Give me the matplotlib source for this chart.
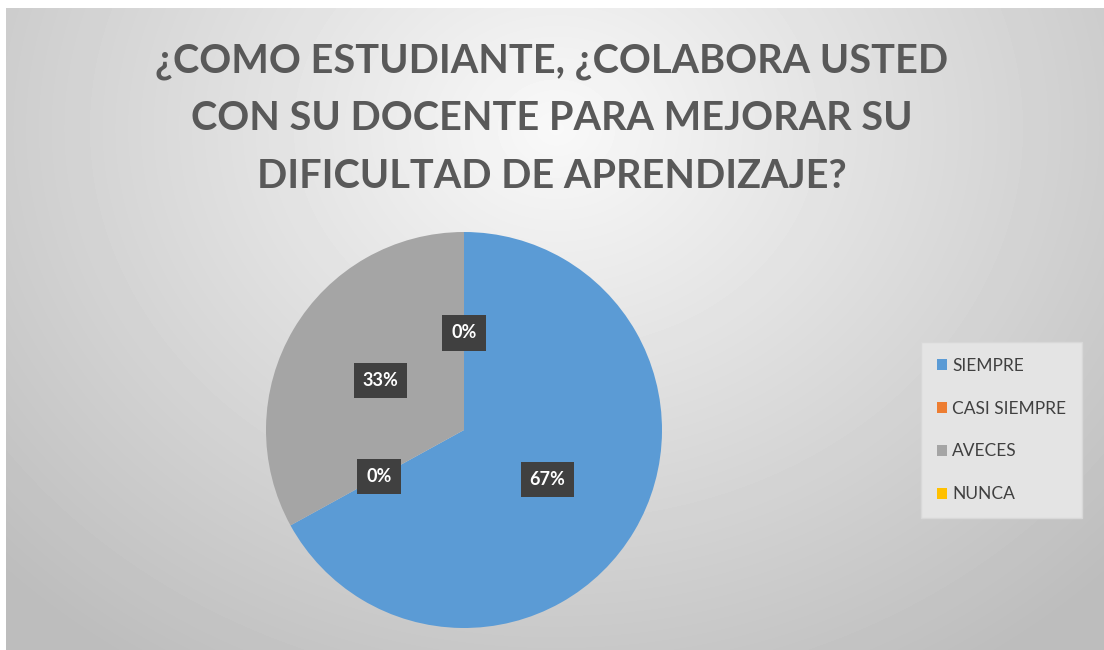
import matplotlib.pyplot as plt
import numpy as np

categories = ["SIEMPRE", "CASI SIEMPRE", "AVECES", "NUNCA"]
values = [67, 0, 33, 0]
colors = ["#5B9BD5", "#ED7D31", "#A5A5A5", "#FFC000"]
title_lines = ["¿COMO ESTUDIANTE, ¿COLABORA USTED",
               "CON SU DOCENTE PARA MEJORAR SU",
               "DIFICULTAD DE APRENDIZAJE?"]

plt.rcParams["font.family"] = ["Lato", "DejaVu Sans"]

W, H = 1104, 650
fig = plt.figure(figsize=(W / 100, H / 100), dpi=100)
fig.patch.set_facecolor("white")

# radial gradient background
bg = fig.add_axes([6 / W, 0, 1 - 6 / W, 1 - 8 / H])
yy, xx = np.mgrid[0:642, 0:1098]
r = np.sqrt(((xx - 550) / 620.0) ** 2 + ((yy - 120) / 520.0) ** 2)
shade = np.clip(0.975 - 0.19 * r, 0.74, 1.0)
bg.imshow(shade, cmap="gray", vmin=0, vmax=1, aspect="auto", interpolation="bilinear")
bg.set_axis_off()

# title, one line at a time (centres at 62, 119, 176 px from top)
for i, line in enumerate(title_lines):
    fig.text(0.5, 1 - (62 + 57 * i) / H, line, ha="center", va="center", fontsize=28.5,
             fontweight="bold", color="#595959")

# pie axes: centre (464, 430) px, radius 198 px
cx, cy, rad = 464, 430, 198
ax = fig.add_axes([(cx - rad) / W, (H - cy - rad) / H, 2 * rad / W, 2 * rad / H])
wedges, texts, autotexts = ax.pie(values, colors=colors, startangle=90, counterclock=False,
                                  autopct="%.0f%%", pctdistance=0.49, radius=1,
                                  wedgeprops=dict(linewidth=0))
for t in autotexts:
    t.set_color("white")
    t.set_fontsize(13)
    t.set_fontweight("bold")
    t.set_bbox(dict(boxstyle="square,pad=0.5", fc="#404040", ec="none"))
ax.set_xlim(-1, 1)
ax.set_ylim(-1, 1)
ax.set_aspect("auto")
ax.set_axis_off()

leg = fig.legend(wedges, categories, loc="center left", bbox_to_anchor=(921 / W, 1 - 430 / H),
                 frameon=True, fancybox=False, fontsize=12.5, labelspacing=1.55,
                 handlelength=0.6, handleheight=0.6, handletextpad=0.3, borderpad=0.9,
                 borderaxespad=0, labelcolor="#404040")
leg.get_frame().set_facecolor("#e4e4e4")
leg.get_frame().set_edgecolor("#d8d8d8")
leg.get_frame().set_alpha(1)

fig.savefig("out.png", dpi=100)
